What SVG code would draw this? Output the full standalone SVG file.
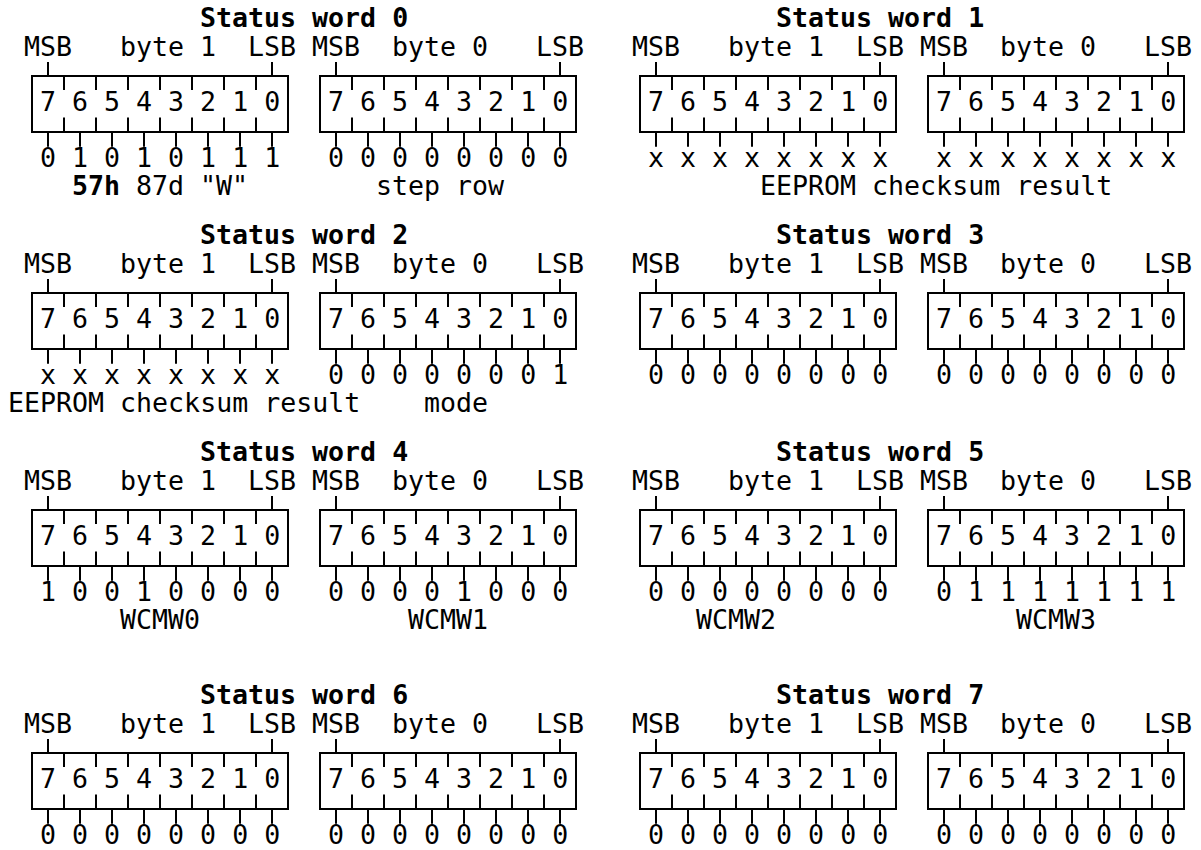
<svg xmlns="http://www.w3.org/2000/svg" width="1201" height="850" viewBox="0 0 1201 850">
<style>
.t{font-family:"DejaVu Sans Mono","Liberation Mono",monospace;font-size:26.6px;fill:#000}
.b{font-weight:bold}
.ln{fill:none;stroke:#000;stroke-width:2}
</style>
<defs>
<g id="bb">
<path class="ln" d="M0 0H256V56H0Z M32 0V14 M64 0V14 M96 0V14 M128 0V14 M160 0V14 M192 0V14 M224 0V14 M32 41.5V56 M64 41.5V56 M96 41.5V56 M128 41.5V56 M160 41.5V56 M192 41.5V56 M224 41.5V56 M16 -14V0 M240 -14V0 M16 56V70.7 M48 56V70.7 M80 56V70.7 M112 56V70.7 M144 56V70.7 M176 56V70.7 M208 56V70.7 M240 56V70.7"/>
</g>
</defs>
<rect width="1201" height="850" fill="#fff"/>

<g id="status-word-0">
<text class="t b" x="200" y="27">Status word 0</text>
<text class="t" x="24" y="56">MSB</text>
<text class="t" x="120" y="56">byte 1</text>
<text class="t" x="248" y="56">LSB</text>
<text class="t" x="312" y="56">MSB</text>
<text class="t" x="392" y="56">byte 0</text>
<text class="t" x="536" y="56">LSB</text>
<use href="#bb" x="32" y="76"/>
<use href="#bb" x="320" y="76"/>
<text class="t" x="40" y="111">7 6 5 4 3 2 1 0</text>
<text class="t" x="328" y="111">7 6 5 4 3 2 1 0</text>
<text class="t" x="40" y="166.7">0 1 0 1 0 1 1 1</text>
<text class="t" x="328" y="166.7">0 0 0 0 0 0 0 0</text>
<text class="t b" x="72" y="195">57h</text>
<text class="t" x="136" y="195">87d</text>
<text class="t" x="200" y="195">"W"</text>
<text class="t" x="376" y="195">step row</text>
</g>

<g id="status-word-1">
<text class="t b" x="776" y="27">Status word 1</text>
<text class="t" x="632" y="56">MSB</text>
<text class="t" x="728" y="56">byte 1</text>
<text class="t" x="856" y="56">LSB</text>
<text class="t" x="920" y="56">MSB</text>
<text class="t" x="1000" y="56">byte 0</text>
<text class="t" x="1144" y="56">LSB</text>
<use href="#bb" x="640" y="76"/>
<use href="#bb" x="928" y="76"/>
<text class="t" x="648" y="111">7 6 5 4 3 2 1 0</text>
<text class="t" x="936" y="111">7 6 5 4 3 2 1 0</text>
<text class="t" x="648" y="166.7">x x x x x x x x</text>
<text class="t" x="936" y="166.7">x x x x x x x x</text>
<text class="t" x="760" y="195">EEPROM checksum result</text>
</g>

<g id="status-word-2">
<text class="t b" x="200" y="244">Status word 2</text>
<text class="t" x="24" y="273">MSB</text>
<text class="t" x="120" y="273">byte 1</text>
<text class="t" x="248" y="273">LSB</text>
<text class="t" x="312" y="273">MSB</text>
<text class="t" x="392" y="273">byte 0</text>
<text class="t" x="536" y="273">LSB</text>
<use href="#bb" x="32" y="293"/>
<use href="#bb" x="320" y="293"/>
<text class="t" x="40" y="328">7 6 5 4 3 2 1 0</text>
<text class="t" x="328" y="328">7 6 5 4 3 2 1 0</text>
<text class="t" x="40" y="383.7">x x x x x x x x</text>
<text class="t" x="328" y="383.7">0 0 0 0 0 0 0 1</text>
<text class="t" x="8" y="412">EEPROM checksum result</text>
<text class="t" x="424" y="412">mode</text>
</g>

<g id="status-word-3">
<text class="t b" x="776" y="244">Status word 3</text>
<text class="t" x="632" y="273">MSB</text>
<text class="t" x="728" y="273">byte 1</text>
<text class="t" x="856" y="273">LSB</text>
<text class="t" x="920" y="273">MSB</text>
<text class="t" x="1000" y="273">byte 0</text>
<text class="t" x="1144" y="273">LSB</text>
<use href="#bb" x="640" y="293"/>
<use href="#bb" x="928" y="293"/>
<text class="t" x="648" y="328">7 6 5 4 3 2 1 0</text>
<text class="t" x="936" y="328">7 6 5 4 3 2 1 0</text>
<text class="t" x="648" y="383.7">0 0 0 0 0 0 0 0</text>
<text class="t" x="936" y="383.7">0 0 0 0 0 0 0 0</text>
</g>

<g id="status-word-4">
<text class="t b" x="200" y="461">Status word 4</text>
<text class="t" x="24" y="490">MSB</text>
<text class="t" x="120" y="490">byte 1</text>
<text class="t" x="248" y="490">LSB</text>
<text class="t" x="312" y="490">MSB</text>
<text class="t" x="392" y="490">byte 0</text>
<text class="t" x="536" y="490">LSB</text>
<use href="#bb" x="32" y="510"/>
<use href="#bb" x="320" y="510"/>
<text class="t" x="40" y="545">7 6 5 4 3 2 1 0</text>
<text class="t" x="328" y="545">7 6 5 4 3 2 1 0</text>
<text class="t" x="40" y="600.7">1 0 0 1 0 0 0 0</text>
<text class="t" x="328" y="600.7">0 0 0 0 1 0 0 0</text>
<text class="t" x="120" y="629">WCMW0</text>
<text class="t" x="408" y="629">WCMW1</text>
</g>

<g id="status-word-5">
<text class="t b" x="776" y="461">Status word 5</text>
<text class="t" x="632" y="490">MSB</text>
<text class="t" x="728" y="490">byte 1</text>
<text class="t" x="856" y="490">LSB</text>
<text class="t" x="920" y="490">MSB</text>
<text class="t" x="1000" y="490">byte 0</text>
<text class="t" x="1144" y="490">LSB</text>
<use href="#bb" x="640" y="510"/>
<use href="#bb" x="928" y="510"/>
<text class="t" x="648" y="545">7 6 5 4 3 2 1 0</text>
<text class="t" x="936" y="545">7 6 5 4 3 2 1 0</text>
<text class="t" x="648" y="600.7">0 0 0 0 0 0 0 0</text>
<text class="t" x="936" y="600.7">0 1 1 1 1 1 1 1</text>
<text class="t" x="696" y="629">WCMW2</text>
<text class="t" x="1016" y="629">WCMW3</text>
</g>

<g id="status-word-6">
<text class="t b" x="200" y="704">Status word 6</text>
<text class="t" x="24" y="733">MSB</text>
<text class="t" x="120" y="733">byte 1</text>
<text class="t" x="248" y="733">LSB</text>
<text class="t" x="312" y="733">MSB</text>
<text class="t" x="392" y="733">byte 0</text>
<text class="t" x="536" y="733">LSB</text>
<use href="#bb" x="32" y="753"/>
<use href="#bb" x="320" y="753"/>
<text class="t" x="40" y="788">7 6 5 4 3 2 1 0</text>
<text class="t" x="328" y="788">7 6 5 4 3 2 1 0</text>
<text class="t" x="40" y="843.7">0 0 0 0 0 0 0 0</text>
<text class="t" x="328" y="843.7">0 0 0 0 0 0 0 0</text>
</g>

<g id="status-word-7">
<text class="t b" x="776" y="704">Status word 7</text>
<text class="t" x="632" y="733">MSB</text>
<text class="t" x="728" y="733">byte 1</text>
<text class="t" x="856" y="733">LSB</text>
<text class="t" x="920" y="733">MSB</text>
<text class="t" x="1000" y="733">byte 0</text>
<text class="t" x="1144" y="733">LSB</text>
<use href="#bb" x="640" y="753"/>
<use href="#bb" x="928" y="753"/>
<text class="t" x="648" y="788">7 6 5 4 3 2 1 0</text>
<text class="t" x="936" y="788">7 6 5 4 3 2 1 0</text>
<text class="t" x="648" y="843.7">0 0 0 0 0 0 0 0</text>
<text class="t" x="936" y="843.7">0 0 0 0 0 0 0 0</text>
</g>

<g id="connectors"></g>
</svg>
